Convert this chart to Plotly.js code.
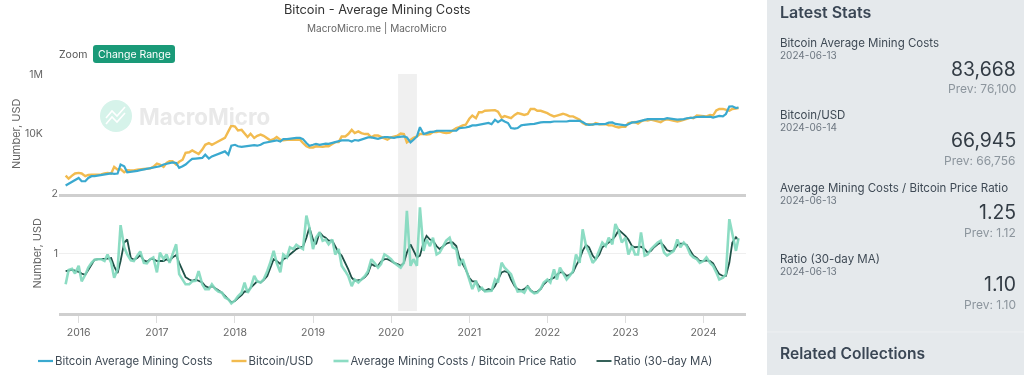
<!DOCTYPE html>
<html>
<head>
<meta charset="utf-8">
<script src="https://cdn.plot.ly/plotly-3.0.1.min.js"></script>
<style>html,body{margin:0;padding:0;background:#fff;overflow:hidden}#c{width:1024px;height:375px;filter:blur(0.4px)}</style>
</head>
<body>
<div id="c"></div>
<script>
// Semi-monthly (1st and 15th). Cost and price are log10(USD).
const cost2015=[2.27,2.33,2.39,2.44];
const cost2016=[2.52,2.41,2.41,2.52,2.58,2.58,2.60,2.61,2.63,2.64,2.67,2.66,2.67,2.97,2.91,2.71,2.72,2.74,2.76,2.78,2.80,2.82,2.84,2.87];
const cost2017=[2.89,2.91,2.97,3.00,3.02,3.04,3.02,2.86,2.91,2.97,3.08,3.16,3.17,3.17,3.19,3.30,3.17,3.24,3.28,3.32,3.36,3.41,3.30,3.60];
const cost2018=[3.63,3.58,3.56,3.58,3.58,3.60,3.62,3.60,3.63,3.69,3.72,3.74,3.78,3.78,3.74,3.82,3.82,3.84,3.86,3.86,3.86,3.82,3.69,3.60];
const cost2019=[3.63,3.66,3.63,3.66,3.67,3.66,3.69,3.72,3.74,3.78,3.78,3.78,3.74,3.79,3.77,3.80,3.86,3.88,3.88,3.86,3.83,3.86,3.89,3.89];
const cost2020=[3.88,3.86,3.89,3.91,3.91,3.88,3.71,3.80,3.91,4.22,3.99,4.02,4.06,4.06,4.10,4.10,4.10,4.10,4.10,4.12,4.10,4.19,4.19,4.21];
const cost2021=[4.24,4.28,4.28,4.30,4.30,4.32,4.36,4.32,4.47,4.39,4.47,4.41,4.36,4.19,4.17,4.19,4.28,4.30,4.30,4.32,4.33,4.36,4.38,4.39];
const cost2022=[4.38,4.39,4.41,4.41,4.39,4.41,4.41,4.43,4.43,4.44,4.43,4.39,4.32,4.30,4.32,4.32,4.32,4.32,4.33,4.37,4.38,4.33,4.32,4.30];
const cost2023=[4.28,4.32,4.38,4.38,4.41,4.44,4.47,4.49,4.49,4.49,4.49,4.48,4.49,4.52,4.49,4.49,4.47,4.47,4.49,4.52,4.52,4.54,4.56,4.57];
const cost2024=[4.57,4.56,4.57,4.54,4.58,4.60,4.58,4.66,4.91,4.92,4.86,4.88];

const price2015=[2.60,2.50,2.60,2.67];
const price2016=[2.69,2.67,2.58,2.62,2.63,2.63,2.63,2.64,2.67,2.69,2.67,2.89,2.80,2.82,2.71,2.78,2.77,2.77,2.80,2.82,2.82,2.83,2.84,2.89];
const price2017=[3.00,2.97,2.89,3.02,3.08,3.08,2.97,3.06,3.13,3.36,3.38,3.44,3.36,3.32,3.47,3.63,3.69,3.63,3.69,3.74,3.82,3.86,4.08,4.27];
const price2018=[4.24,4.11,4.13,4.02,3.89,4.00,3.86,3.93,3.97,3.93,3.86,3.78,3.82,3.89,3.80,3.78,3.80,3.80,3.80,3.82,3.80,3.69,3.58,3.54];
const price2019=[3.54,3.58,3.56,3.56,3.58,3.58,3.66,3.72,3.72,3.91,3.91,3.99,4.13,4.02,4.08,4.02,3.99,3.99,3.88,3.94,3.94,3.89,3.83,3.80];
const price2020=[3.88,3.91,3.94,4.01,3.99,3.71,3.80,3.86,3.91,3.99,3.99,3.97,3.99,4.06,4.06,4.08,4.04,4.02,4.04,4.10,4.19,4.22,4.28,4.30];
const price2021=[4.50,4.61,4.52,4.72,4.72,4.77,4.77,4.79,4.79,4.74,4.54,4.59,4.54,4.52,4.63,4.69,4.66,4.63,4.66,4.83,4.83,4.77,4.77,4.74];
const price2022=[4.69,4.63,4.58,4.61,4.63,4.67,4.63,4.58,4.58,4.52,4.47,4.36,4.30,4.32,4.30,4.36,4.32,4.32,4.32,4.28,4.28,4.24,4.21,4.23];
const price2023=[4.23,4.36,4.39,4.39,4.34,4.41,4.46,4.44,4.47,4.44,4.41,4.39,4.46,4.48,4.46,4.43,4.41,4.43,4.48,4.50,4.54,4.52,4.61,4.60];
const price2024=[4.61,4.58,4.63,4.61,4.78,4.83,4.83,4.80,4.77,4.83,4.86,4.86];

const ratio2015=[.48,.72,.74,.66];
const ratio2016=[.79,.53,.64,.76,.84,.89,.90,.90,.87,.98,.84,.59,.73,1.47,1.10,.98,.88,.87,.96,1.03,.84,.83,.90,.93];
const ratio2017=[.68,1.01,.90,.98,.84,.98,1.15,.65,.56,.48,.48,.53,.54,.70,.48,.40,.40,.48,.40,.36,.34,.26,.23,.16];
const ratio2018=[.21,.28,.34,.51,.34,.42,.62,.53,.51,.56,.70,.84,1.04,.84,.68,.98,.93,1.10,1.07,1.14,1.10,1.07,1.63,1.43];
const ratio2019=[1.07,1.26,1.35,1.21,1.23,1.15,1.23,.98,1.07,.79,.70,.62,.45,.56,.51,.56,.62,.70,.90,.84,.76,.82,.98,.95];
const ratio2020=[.90,.84,.80,.76,.84,1.71,.79,.90,.79,1.77,1.04,1.23,1.12,1.26,.98,1.01,1.12,1.21,1.26,1.10,1.07,.79,.90,.76];
const ratio2021=[.56,.40,.54,.38,.42,.36,.36,.37,.56,.51,.84,.76,.70,.65,.48,.36,.37,.34,.45,.37,.33,.34,.41,.51];
const ratio2022=[.56,.51,.73,.56,.76,.68,.56,.62,.70,.98,.84,1.40,1.12,1.01,.84,.90,1.04,1.18,1.12,1.26,1.15,1.49,1.37,1.18];
const ratio2023=[1.26,.98,1.12,.98,.98,1.35,.96,.98,1.07,1.12,1.18,1.21,1.01,.96,1.01,1.04,1.23,1.10,1.18,1.12,.98,.93,.90,.84];
const ratio2024=[.87,.93,.84,.79,.68,.56,.59,.65,1.57,1.32,1.04,1.25];

const ma2015=[.70,.71,.72,.71];
const ma2016=[.69,.66,.64,.72,.82,.89,.90,.90,.90,.91,.92,.78,.67,.87,1.18,1.23,.92,.89,.92,.97,.88,.86,.90,.90];
const ma2017=[.87,.87,.87,.90,.87,.93,.97,.84,.70,.60,.56,.54,.56,.54,.51,.45,.42,.45,.42,.38,.34,.28,.23,.18];
const ma2018=[.20,.25,.30,.36,.36,.42,.48,.53,.51,.55,.62,.76,.90,.87,.82,.90,.93,.98,1.03,1.07,1.10,1.11,1.26,1.43];
const ma2019=[1.23,1.15,1.35,1.29,1.26,1.21,1.21,1.12,1.01,.96,.84,.73,.59,.54,.55,.56,.60,.66,.82,.79,.79,.86,.90,.90];
const ma2020=[.87,.84,.82,.79,.84,1.01,1.15,1.04,.93,.96,1.18,1.29,1.23,1.21,1.12,1.07,1.12,1.16,1.18,1.18,1.12,.93,.82,.73];
const ma2021=[.59,.53,.53,.45,.40,.37,.40,.38,.45,.56,.68,.70,.68,.56,.45,.40,.38,.40,.45,.38,.34,.36,.40,.48];
const ma2022=[.54,.56,.59,.64,.68,.68,.62,.64,.68,.79,.90,1.04,1.14,1.10,.96,.90,.98,1.10,1.15,1.18,1.23,1.29,1.39,1.35];
const ma2023=[1.29,1.23,1.12,1.10,1.10,1.11,1.07,1.01,1.04,1.10,1.15,1.18,1.12,1.05,1.03,1.05,1.14,1.16,1.16,1.14,1.04,.96,.92,.87];
const ma2024=[.87,.88,.87,.83,.73,.65,.62,.62,.84,1.18,1.27,1.22];

const seriesNames=["Bitcoin Average Mining Costs","Bitcoin/USD","Average Mining Costs / Bitcoin Price Ratio","Ratio (30-day MA)"];
const tickYears=["2016-01-01","2017-01-01","2018-01-01","2019-01-01","2020-01-01","2021-01-01","2022-01-01","2023-01-01","2024-01-01"];
const tickLabels=["2016","2017","2018","2019","2020","2021","2022","2023","2024"];
const statNames=["Bitcoin Average Mining Costs","Bitcoin/USD","Average Mining Costs / Bitcoin Price Ratio","Ratio (30-day MA)"];
const statDates=["2024-06-13","2024-06-14","2024-06-13","2024-06-13"];
const statValues=["83,668","66,945","1.25","1.10"];
const statPrev=["76,100","66,756","1.12","1.10"];

function dateList(y,n,startMonth){
  const out=[];
  for(let i=0;i<n;i++){
    const m=startMonth+Math.floor(i/2), last=(y===2024&&i===n-1);
    out.push(y+"-"+String(m).padStart(2,"0")+"-"+(last?"13":(i%2?"15":"01")));
  }
  return out;
}
function join(a){
  let xs=[],ys=[];
  a.forEach((v,i)=>{xs=xs.concat(dateList(2015+i,v.length,i===0?11:1));ys=ys.concat(v);});
  return {xs,ys};
}
const cost=join([cost2015,cost2016,cost2017,cost2018,cost2019,cost2020,cost2021,cost2022,cost2023,cost2024]);
const price=join([price2015,price2016,price2017,price2018,price2019,price2020,price2021,price2022,price2023,price2024]);
const ratio=join([ratio2015,ratio2016,ratio2017,ratio2018,ratio2019,ratio2020,ratio2021,ratio2022,ratio2023,ratio2024]);
const ma=join([ma2015,ma2016,ma2017,ma2018,ma2019,ma2020,ma2021,ma2022,ma2023,ma2024]);
const usd=a=>a.map(v=>Math.pow(10,v));

const W=1024,H=375,FONT='Inter, "Noto Sans", sans-serif';
const px=x=>x/W, py=y=>1-y/H;
const note=(text,x,y,size,color,anchor,extra)=>Object.assign({text,x:px(x),y:py(y),xref:"paper",yref:"paper",showarrow:false,xanchor:anchor||"left",yanchor:"middle",font:{family:FONT,size,color}},extra||{});

const traces=[
 {x:price.xs,y:usd(price.ys),name:seriesNames[1],type:"scatter",mode:"lines",line:{color:"#f2bb4f",width:2.4},xaxis:"x",yaxis:"y",legendrank:2},
 {x:cost.xs,y:usd(cost.ys),name:seriesNames[0],type:"scatter",mode:"lines",line:{color:"#3aa9cf",width:2.2},xaxis:"x",yaxis:"y",legendrank:1},
 {x:ma.xs,y:ma.ys,name:seriesNames[3],type:"scatter",mode:"lines",line:{color:"#1f5047",width:1.8},xaxis:"x2",yaxis:"y2",legendrank:4},
 {x:ratio.xs,y:ratio.ys,name:seriesNames[2],type:"scatter",mode:"lines",line:{color:"#7fd8bd",width:2.6},opacity:0.9,xaxis:"x2",yaxis:"y2",legendrank:3}
];

const ann=[
 note("Bitcoin - Average Mining Costs",377,9,12.8,"#333","center"),
 note("MacroMicro.me | MacroMicro",377,28,10,"#666","center"),
 note("Zoom",57,54,10.5,"#555"),
 note("Change Range",134,54,10.5,"#ffffff","center"),
 note("MacroMicro",137,116,22.3,"#e9e9e9","left",{font:{family:FONT,size:22.3,color:"#e9e9e9",weight:700}}),
 note("Latest Stats",778,12,16,"#3a4654","left",{font:{family:FONT,size:16,color:"#3a4654",weight:600}}),
 note("Related Collections",778,353,15.6,"#3a4654","left",{font:{family:FONT,size:15.6,color:"#3a4654",weight:600}})
];
const statY=[43,115,188,259];
const valY=[69,140,212,284];
const prevY=[88.5,160,232,304];
statNames.forEach((n,i)=>{
 ann.push(note(n,778,statY[i],11.5,"#3f4a55"));
 ann.push(note(statDates[i],778,statY[i]+12,10,"#6c7680"));
 ann.push(note(statValues[i],1017,valY[i],19.4,"#333c45","right",{borderpad:0}));
 ann.push(note("Prev: "+statPrev[i],1017,prevY[i],12,"#8c959d","right",{borderpad:0}));
});

const bx0=px(93),bx1=px(175),by0=py(45),by1=py(63),rx=3/W,ry=3/H;
const buttonPath=`M ${bx0+rx} ${by0} L ${bx1-rx} ${by0} Q ${bx1} ${by0} ${bx1} ${by0-ry} L ${bx1} ${by1+ry} Q ${bx1} ${by1} ${bx1-rx} ${by1} L ${bx0+rx} ${by1} Q ${bx0} ${by1} ${bx0} ${by1+ry} L ${bx0} ${by0-ry} Q ${bx0} ${by0} ${bx0+rx} ${by0} Z`;
const zig=(pts)=>"M "+pts.map(p=>px(p[0])+" "+py(p[1])).join(" L ");

const shapes=[
 {type:"rect",xref:"paper",yref:"paper",x0:px(767),x1:1,y0:0,y1:1,fillcolor:"#e5e9ec",line:{width:0},layer:"below"},
 {type:"line",xref:"paper",yref:"paper",x0:px(767),x1:1,y0:py(332),y1:py(332),line:{color:"#eef0f2",width:1},layer:"below"},
 {type:"rect",xref:"x",yref:"paper",x0:"2020-02-03",x1:"2020-05-01",y0:py(311),y1:py(74),fillcolor:"#f0f0f0",line:{width:0},layer:"below"},
 {type:"path",xref:"paper",yref:"paper",path:buttonPath,fillcolor:"#1a9a78",line:{width:0},layer:"below"},
 {type:"circle",xref:"paper",yref:"paper",x0:px(100),x1:px(132),y0:py(132),y1:py(100),fillcolor:"#d6f3ea",line:{width:0},layer:"below"},
 {type:"path",xref:"paper",yref:"paper",path:zig([[106,118],[112,111],[117,116],[125,107]]),line:{color:"#ffffff",width:1.6},layer:"below"},
 {type:"path",xref:"paper",yref:"paper",path:zig([[106,124],[112,117],[117,122],[125,113]]),line:{color:"#ffffff",width:1.6},layer:"below"}
];

const layout={
 width:W,height:H,margin:{l:0,r:0,t:0,b:0},paper_bgcolor:"#fff",plot_bgcolor:"rgba(0,0,0,0)",
 font:{family:FONT,color:"#666",size:11},showlegend:true,
 legend:{orientation:"h",x:px(24),xanchor:"left",y:py(350),yanchor:"middle",font:{family:FONT,size:11.4,color:"#3f4a55"},bgcolor:"rgba(0,0,0,0)",itemwidth:30,traceorder:"normal"},
 xaxis:{type:"date",domain:[px(59),px(746)],range:["2015-10-01","2024-07-18"],anchor:"y",showticklabels:false,ticks:"",showgrid:false,zeroline:false,showline:true,linecolor:"#cfcfcf",linewidth:3,matches:"x2"},
 xaxis2:{type:"date",domain:[px(59),px(746)],range:["2015-10-01","2024-07-18"],anchor:"y2",tickmode:"array",tickvals:tickYears,ticktext:tickLabels,ticks:"outside",ticklen:7,tickcolor:"#dddddd",tickfont:{family:FONT,size:10.5,color:"#666"},showgrid:false,zeroline:false,showline:true,linecolor:"#cfcfcf",linewidth:3},
 yaxis:{type:"log",domain:[py(193.5),py(74)],range:[2,6],anchor:"x",tickmode:"array",tickvals:[10000,1000000],ticktext:["10K","1M"],ticks:"outside",ticklen:13,tickcolor:"rgba(0,0,0,0)",tickfont:{family:FONT,size:10.5,color:"#666"},showgrid:false,zeroline:false,showline:false,title:{text:"Number, USD",standoff:2,font:{family:FONT,size:11,color:"#666"}}},
 yaxis2:{domain:[py(313),py(193.5)],range:[0,2],anchor:"x2",tickmode:"array",tickvals:[1,2],ticktext:["1","2"],ticks:"",tickfont:{family:FONT,size:10.5,color:"#666"},showgrid:true,gridcolor:"#efefef",gridwidth:1.5,zeroline:false,showline:false,title:{text:"Number, USD",standoff:7,font:{family:FONT,size:11,color:"#666"}}},
 annotations:ann,shapes:shapes
};
// Swatch starts of the four legend entries; the native legend is kept and only tightened.
const legendStarts=[38,231.5,333.5,596.5];
const legendDrop=11;
Plotly.newPlot("c",traces,layout,{displayModeBar:false,staticPlot:true}).then(gd=>{
  gd.querySelectorAll(".legend .traces").forEach((g,i)=>{
    const m=(g.getAttribute("transform")||"").match(/translate\(([-\d.]+),\s*([-\d.]+)\)/);
    const y=m?parseFloat(m[2]):0;
    const name=g.querySelector("text").textContent;
    const k=seriesNames.indexOf(name);
    g.setAttribute("transform","translate("+(legendStarts[k]-5-24)+","+(y+legendDrop)+")");
    g.querySelectorAll(".legendlines path").forEach(p=>p.setAttribute("d","M5,0h15"));
    const t=g.querySelector("text");t.setAttribute("x","22");
    t.querySelectorAll("tspan").forEach(s=>s.setAttribute("x","22"));
  });
  const clip=gd.querySelector(".legend .scrollbox");
  if(clip) clip.removeAttribute("clip-path");
});
</script>
</body>
</html>
